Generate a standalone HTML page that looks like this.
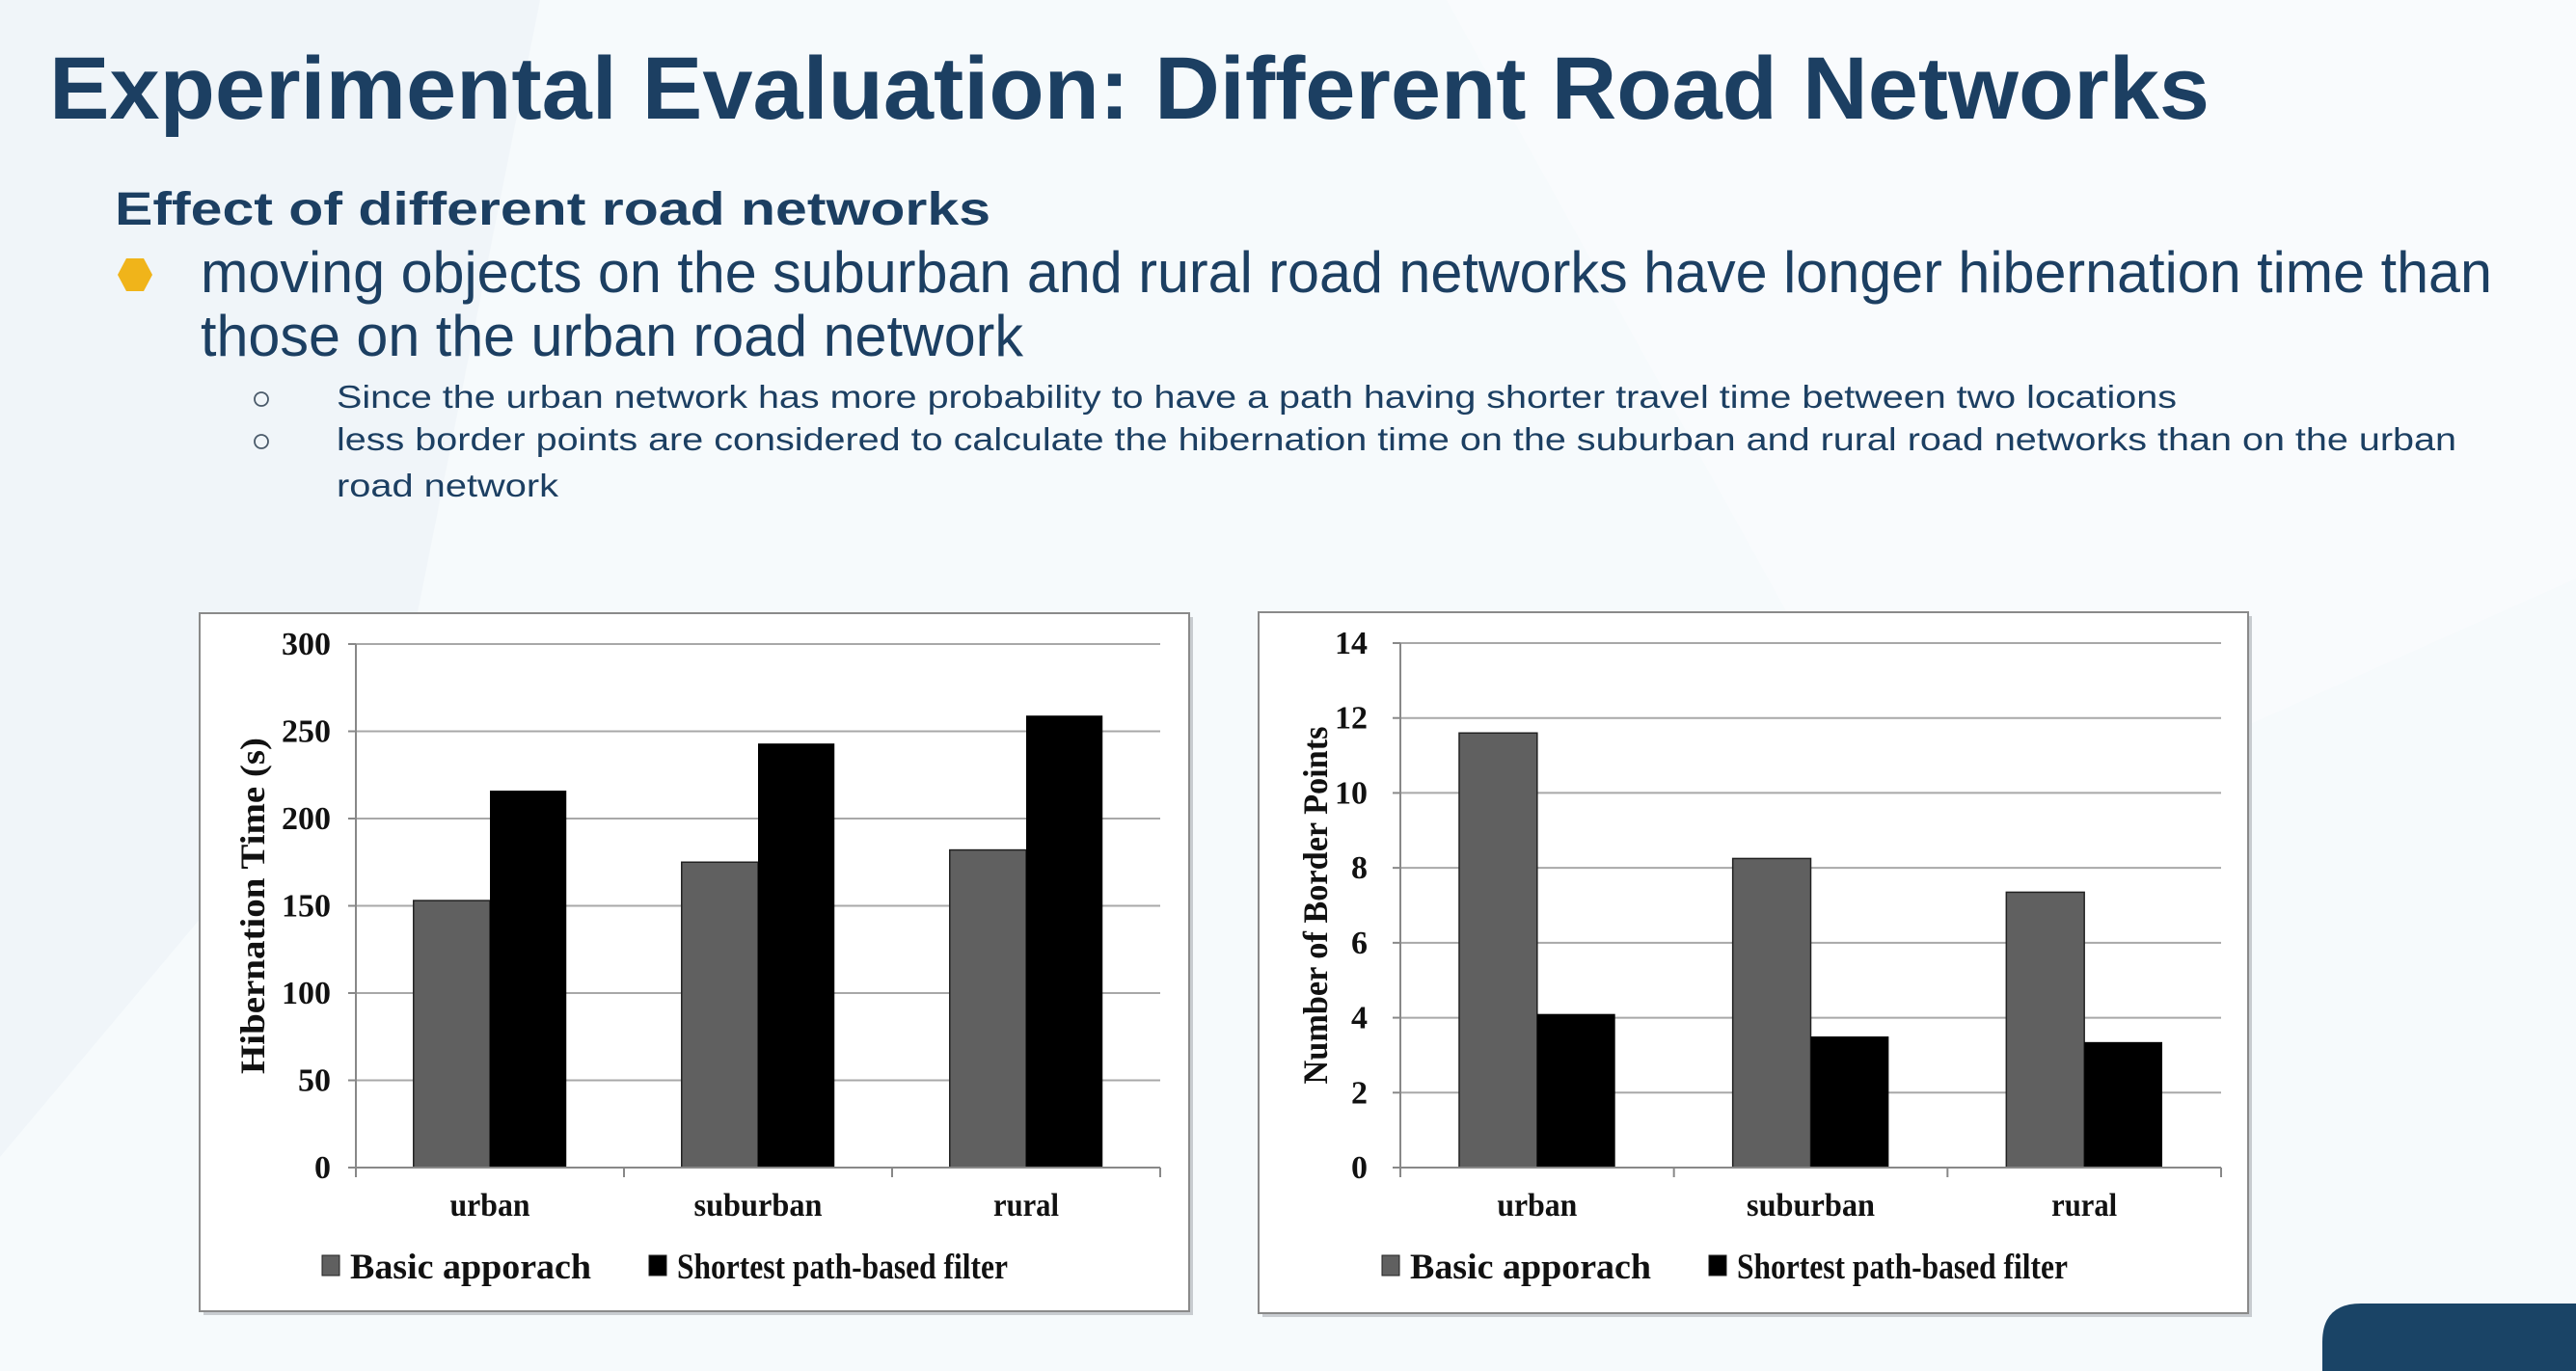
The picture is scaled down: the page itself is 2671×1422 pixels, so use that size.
<!DOCTYPE html>
<html><head><meta charset="utf-8"><style>
html,body{margin:0;padding:0;background:#f6fafc;}
svg{display:block;}
</style></head><body>
<svg id="page" width="2671" height="1422" viewBox="0 0 2671 1422" xmlns="http://www.w3.org/2000/svg">
<rect width="2671" height="1422" fill="#f6fafc"/>
<polygon points="0,0 560,0 420,700 0,1200" fill="#f0f5f9"/>
<polygon points="1500,0 2671,0 2671,600 2000,900" fill="#f9fbfd"/>
<text x="51" y="123" font-family="Liberation Sans, sans-serif" font-weight="bold" font-size="92" fill="#1c3f62" textLength="2240" lengthAdjust="spacingAndGlyphs">Experimental Evaluation: Different Road Networks</text>
<text x="119" y="233" font-family="Liberation Sans, sans-serif" font-weight="bold" font-size="48" fill="#1c3f62" textLength="908" lengthAdjust="spacingAndGlyphs">Effect of different road networks</text>
<polygon points="131,268 149,268 158,285 149,302 131,302 122,285" fill="#f0b41a"/>
<text x="208" y="303" font-family="Liberation Sans, sans-serif" font-size="60" fill="#1c3f62" textLength="2376" lengthAdjust="spacingAndGlyphs">moving objects on the suburban and rural road networks have longer hibernation time than</text>
<text x="208" y="369" font-family="Liberation Sans, sans-serif" font-size="60" fill="#1c3f62" textLength="853" lengthAdjust="spacingAndGlyphs">those on the urban road network</text>
<circle cx="271" cy="414" r="7" fill="none" stroke="#4a5a6a" stroke-width="1.8"/>
<circle cx="271" cy="458" r="7" fill="none" stroke="#4a5a6a" stroke-width="1.8"/>
<text x="349" y="423" font-family="Liberation Sans, sans-serif" font-size="33" fill="#1c3f62" textLength="1908" lengthAdjust="spacingAndGlyphs">Since the urban network has more probability to have a path having shorter travel time between two locations</text>
<text x="349" y="467" font-family="Liberation Sans, sans-serif" font-size="33" fill="#1c3f62" textLength="2198" lengthAdjust="spacingAndGlyphs">less border points are considered to calculate the hibernation time on the suburban and rural road networks than on the urban</text>
<text x="349" y="515" font-family="Liberation Sans, sans-serif" font-size="33" fill="#1c3f62" textLength="230" lengthAdjust="spacingAndGlyphs">road network</text>
<g id="chart1"></g>
<g id="chart2"></g>
<path d="M2408,1422 L2408,1392 Q2408,1352 2448,1352 L2671,1352 L2671,1422 Z" fill="#1a4466"/>
</svg>
<script>
const categories = ["urban","suburban","rural"];
const hibBasic = [153,175,182];
const hibFilter = [216,243,259];
const hibTicks = [0,50,100,150,200,250,300];
const bpBasic = [11.6,8.25,7.35];
const bpFilter = [4.1,3.5,3.35];
const bpTicks = [0,2,4,6,8,10,12,14];
const seriesNames = ["Basic apporach","Shortest path-based filter"];

const NS="http://www.w3.org/2000/svg";
function mk(tag, attrs, parent){const e=document.createElementNS(NS,tag);for(const k in attrs)e.setAttribute(k,attrs[k]);parent.appendChild(e);return e;}
const serif="Liberation Serif, serif";
const catLen={urban:83,suburban:133,rural:68};

function drawChart(g, cfg){
  mk('rect',{x:cfg.bx+4,y:cfg.by+4,width:cfg.bw,height:cfg.bh,fill:'#c8ccd0'},g);
  const box=mk('rect',{x:cfg.bx,y:cfg.by,width:cfg.bw,height:cfg.bh,fill:'#fff',stroke:'#8a8a8a','stroke-width':2},g);
  
  
  const max=cfg.ticks[cfg.ticks.length-1];
  const y=v=>cfg.y0-(v/max)*(cfg.y0-cfg.yTop);
  const cw=(cfg.xR-cfg.xL)/categories.length;
  const x=i=>cfg.xL+cw*i;
  cfg.ticks.forEach(t=>{
    if(t>0){const l=mk('line',{x1:cfg.xL,x2:cfg.xR,y1:y(t),y2:y(t),stroke:'#a8a8a8','stroke-width':2},g);
    
    }
    const tk=mk('line',{x1:cfg.xL-8,x2:cfg.xL,y1:y(t),y2:y(t),stroke:'#888','stroke-width':2},g);
    
    
    const tl=mk('text',{x:cfg.tickX,y:y(t)+11,'text-anchor':'end','font-family':serif,'font-weight':'bold','font-size':34,fill:'#111'},g);
    tl.textContent=t;
    
    
  });
  const ax=mk('line',{x1:cfg.xL,x2:cfg.xL,y1:cfg.yTop,y2:cfg.y0+10,stroke:'#888','stroke-width':2},g);
  
  
  const bw=cw*0.285;
  categories.forEach((c,i)=>{
    const cx=x(i)+cw/2;
    const b1=mk('rect',{x:cx-bw,y:y(cfg.s1[i]),width:bw,height:cfg.y0-y(cfg.s1[i]),fill:'#606060',stroke:'#222','stroke-width':1.5},g);
    
    
    const b2=mk('rect',{x:cx,y:y(cfg.s2[i]),width:bw,height:cfg.y0-y(cfg.s2[i]),fill:'#000'},g);
    
    
    const cl=mk('text',{x:cx-catLen[c]/2,y:cfg.y0+50,'font-family':serif,'font-weight':'bold','font-size':34,fill:'#111',textLength:catLen[c],lengthAdjust:'spacingAndGlyphs'},g);
    cl.textContent=c;
    
    
    const tk=mk('line',{x1:x(i+1),x2:x(i+1),y1:cfg.y0,y2:cfg.y0+10,stroke:'#888','stroke-width':2},g);
    
    
  });
  const xa=mk('line',{x1:cfg.xL,x2:cfg.xR,y1:cfg.y0,y2:cfg.y0,stroke:'#888','stroke-width':2},g);
  
  
  const yt=mk('text',{x:-cfg.titleLen/2,y:0,transform:`translate(${cfg.titleX},${(cfg.yTop+cfg.y0)/2}) rotate(-90)`,'font-family':serif,'font-weight':'bold','font-size':36,fill:'#111',textLength:cfg.titleLen,lengthAdjust:'spacingAndGlyphs'},g);
  yt.textContent=cfg.title;
  
  
  const ly=1314;
  [[cfg.lg1,'#606060',seriesNames[0],250],[cfg.lg2,'#000',seriesNames[1],343]].forEach(([lx,col,name,len])=>{
    const sw=mk('rect',{x:lx,y:ly-12,width:18,height:21,fill:col,stroke:'#222','stroke-width':1},g);
    
    
    const lt=mk('text',{x:lx+29,y:ly+12,'font-family':serif,'font-weight':'bold','font-size':37,fill:'#111',textLength:len,lengthAdjust:'spacingAndGlyphs'},g);
    lt.textContent=name;
    
    
  });
}
drawChart(document.getElementById('chart1'),{bx:207,by:636,bw:1026,bh:724,xL:369,xR:1203,yTop:668,y0:1211,tickX:343,ticks:hibTicks,s1:hibBasic,s2:hibFilter,title:'Hibernation Time (s)',titleLen:349,titleX:274,lg1:334,lg2:673});
drawChart(document.getElementById('chart2'),{bx:1305,by:635,bw:1026,bh:727,xL:1452,xR:2303,yTop:667,y0:1211,tickX:1418,ticks:bpTicks,s1:bpBasic,s2:bpFilter,title:'Number of Border Points',titleLen:371,titleX:1376,lg1:1433,lg2:1772});
</script>
</body></html>
